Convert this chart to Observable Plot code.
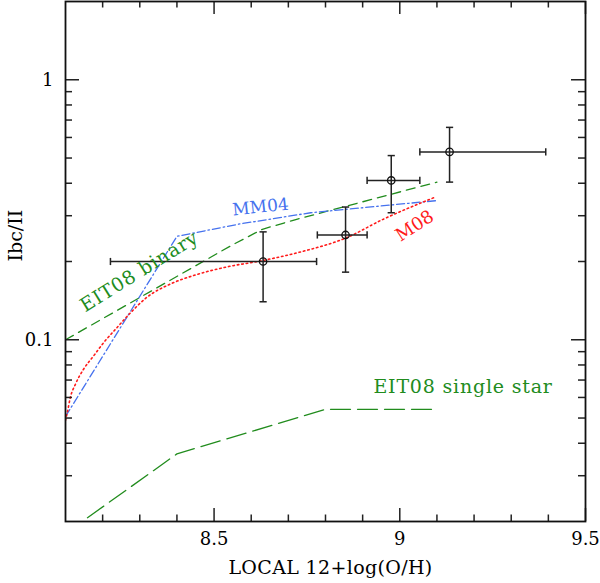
<!DOCTYPE html>
<html>
<head>
<meta charset="utf-8">
<script src="https://cdn.jsdelivr.net/npm/d3@7"></script>
<script src="https://cdn.jsdelivr.net/npm/@observablehq/plot@0.6"></script>
<style>
  body { margin: 0; background: white; }
</style>
</head>
<body>
<div id="chart"></div>
<script>
// observed points (x, y) with error ranges
const obsX   = [8.632, 8.854, 8.977, 9.134]
const obsY   = [0.200, 0.253, 0.410, 0.528]
const obsXlo = [8.221, 8.778, 8.912, 9.054]
const obsXhi = [8.776, 8.912, 9.054, 9.393]
const obsYlo = [0.140, 0.182, 0.308, 0.404]
const obsYhi = [0.260, 0.324, 0.511, 0.656]

// model curves
const m08X = [8.100, 8.105, 8.113, 8.127, 8.149, 8.176, 8.203, 8.239, 8.275, 8.320, 8.383, 8.445, 8.535, 8.625, 8.733, 8.854, 8.956, 9.096]
const m08Y = [0.049, 0.0526, 0.060, 0.0676, 0.0772, 0.0868, 0.0976, 0.1115, 0.127, 0.146, 0.164, 0.1767, 0.1907, 0.201, 0.2177, 0.246, 0.291, 0.354]

const mm04X = [8.1, 8.4, 8.57, 8.76, 9.1]
const mm04Y = [0.0507, 0.25, 0.279, 0.308, 0.343]

const binX = [8.1, 8.55, 8.63, 8.72, 9.1]
const binY = [0.100, 0.232, 0.266, 0.290, 0.404]

const sglX = [8.1, 8.4, 8.8, 9.1]
const sglY = [0.018, 0.0364, 0.054, 0.054]

// axis ticks
const xMajor = [8.5, 9, 9.5]
const xMinor = [8.2, 8.3, 8.4, 8.6, 8.7, 8.8, 8.9, 9.1, 9.2, 9.3, 9.4]
const yMajor = [0.1, 1]
const yMinor = [0.03, 0.04, 0.05, 0.06, 0.07, 0.08, 0.09, 0.2, 0.3, 0.4, 0.5, 0.6, 0.7, 0.8, 0.9]

// curve labels
const noteText = ["MM04", "EIT08 binary", "M08", "EIT08 single star"]
const noteX = [8.625, 8.299, 9.04, 8.929]
const noteY = [0.324, 0.183, 0.274, 0.066]

const W = 600, H = 583
const mt = 1, mb = 62, ml = 65, mr = 15
const innerH = H - mt - mb
const innerW = W - ml - mr

const pts = obsX.map((x, i) => ({x, y: obsY[i], xlo: obsXlo[i], xhi: obsXhi[i], ylo: obsYlo[i], yhi: obsYhi[i]}))
const toRows = (xs, ys) => xs.map((x, i) => ({x, y: ys[i]}))

const green = "#218c1d"
const blue = "#4672ee"
const red = "#ff1a1a"

// small bar symbols for error bar caps
const vCap = {draw(ctx, size) { const r = Math.sqrt(size / Math.PI); ctx.moveTo(0, -r); ctx.lineTo(0, r) }}
const hCap = {draw(ctx, size) { const r = Math.sqrt(size / Math.PI); ctx.moveTo(-r, 0); ctx.lineTo(r, 0) }}

const note = (i, color, rotate, anchor, size) => Plot.text([i], {
    x: d => noteX[d], y: d => noteY[d], text: d => noteText[d],
    fill: color, rotate, textAnchor: anchor, fontSize: size
})

let chart = Plot.plot({
    width: W,
    height: H,
    marginTop: mt,
    marginBottom: mb,
    marginLeft: ml,
    marginRight: mr,
    style: {fontFamily: "DejaVu Serif", fontSize: "18px", color: "black", background: "white"},
    x: {domain: [8.1, 9.5], ticks: xMajor, tickSize: 0, tickPadding: 11, tickFormat: d => String(d), label: null},
    y: {type: "log", domain: [0.02, 2], ticks: yMajor, tickSize: 0, tickPadding: 12, tickFormat: d => String(d), label: null},
    marks: [
        // model curves
        Plot.line(toRows(sglX, sglY), {x: "x", y: "y", stroke: green, strokeWidth: 1.3, strokeDasharray: "20,7", clip: true}),
        Plot.line(toRows(binX, binY), {x: "x", y: "y", stroke: green, strokeWidth: 1.3, strokeDasharray: "9,6", clip: true}),
        Plot.line(toRows(mm04X, mm04Y), {x: "x", y: "y", stroke: blue, strokeWidth: 1.3, strokeDasharray: "8,3,1.5,3", clip: true}),
        Plot.line(toRows(m08X, m08Y), {x: "x", y: "y", stroke: red, strokeWidth: 1.6, strokeDasharray: "1.5,3", curve: "monotone-x", clip: true}),

        // error bars
        Plot.link(pts, {x1: "xlo", x2: "xhi", y1: "y", y2: "y", stroke: "#222", strokeWidth: 1.5}),
        Plot.link(pts, {x1: "x", x2: "x", y1: "ylo", y2: "yhi", stroke: "#222", strokeWidth: 1.5}),
        Plot.dot(pts, {x: "xlo", y: "y", symbol: vCap, r: 3.6, stroke: "#222", fill: "none", strokeWidth: 1.5}),
        Plot.dot(pts, {x: "xhi", y: "y", symbol: vCap, r: 3.6, stroke: "#222", fill: "none", strokeWidth: 1.5}),
        Plot.dot(pts, {x: "x", y: "ylo", symbol: hCap, r: 3.6, stroke: "#222", fill: "none", strokeWidth: 1.5}),
        Plot.dot(pts, {x: "x", y: "yhi", symbol: hCap, r: 3.6, stroke: "#222", fill: "none", strokeWidth: 1.5}),
        Plot.dot(pts, {x: "x", y: "y", r: 3.7, stroke: "#111", fill: "none", strokeWidth: 1.3}),

        // labels on the curves
        note(0, blue, -6, "middle", 17),
        note(1, green, -32, "middle", 19),
        note(2, red, -33, "middle", 18),
        note(3, green, 0, "start", 19),

        // inward ticks on all four sides
        Plot.ruleX(xMajor, {insetTop: innerH - 13, stroke: "#222", strokeWidth: 1.5}),
        Plot.ruleX(xMinor, {insetTop: innerH - 6.5, stroke: "#222", strokeWidth: 1.5}),
        Plot.ruleX(xMajor, {insetBottom: innerH - 13, stroke: "#222", strokeWidth: 1.5}),
        Plot.ruleX(xMinor, {insetBottom: innerH - 6.5, stroke: "#222", strokeWidth: 1.5}),
        Plot.ruleY(yMajor, {insetRight: innerW - 14, stroke: "#222", strokeWidth: 1.5}),
        Plot.ruleY(yMinor, {insetRight: innerW - 7, stroke: "#222", strokeWidth: 1.5}),
        Plot.ruleY(yMajor, {insetLeft: innerW - 14, stroke: "#222", strokeWidth: 1.5}),
        Plot.ruleY(yMinor, {insetLeft: innerW - 7, stroke: "#222", strokeWidth: 1.5}),
        Plot.frame({stroke: "#111", strokeWidth: 1.8}),

        // axis titles
        Plot.text(["LOCAL 12+log(O/H)"], {frameAnchor: "bottom", dy: 52, dx: 5, text: d => d, fontSize: 19}),
        Plot.text(["Ibc/II"], {frameAnchor: "left", dx: -50, rotate: -90, text: d => d, fontSize: 19}),
    ],
})

// the original lettering is a little wider than DejaVu Serif
d3.select(chart).selectAll("text")
    .filter(function() { return this.textContent.startsWith("EIT08") })
    .style("letter-spacing", "0.8px")
d3.select(chart).selectAll("text")
    .filter(function() { return this.textContent.startsWith("LOCAL") })
    .style("letter-spacing", "0.35px")

d3.select("#chart").append(() => chart)
</script>
</body>
</html>
